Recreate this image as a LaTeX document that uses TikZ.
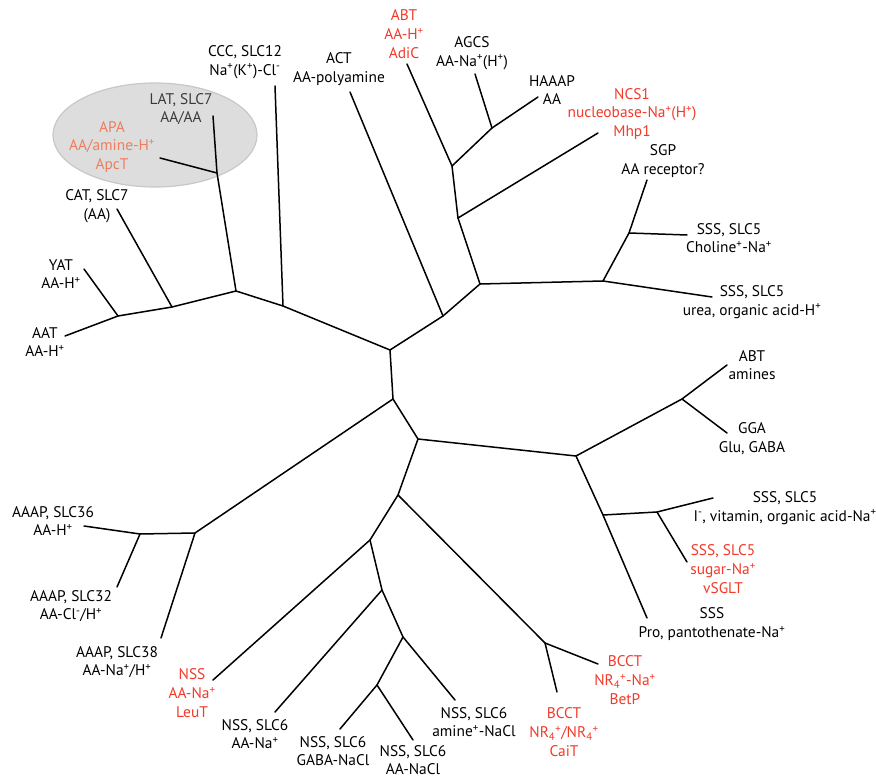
\documentclass[tikz,border=0pt]{standalone}
\usepackage{fontspec}
\setmainfont{PT Sans}
\definecolor{tred}{HTML}{F23A2A}
\definecolor{tsalmon}{HTML}{EE7E5E}
\definecolor{tgrey}{HTML}{DDDDDD}
\definecolor{tgreyline}{HTML}{C8C8C8}
\definecolor{tdark}{HTML}{3A3A3A}
\newcommand{\up}[1]{\textsuperscript{#1}}
\newcommand{\dn}[1]{\textsubscript{#1}}
\tikzset{
  lbl/.style={align=center, inner sep=0pt, font=\fontsize{15.4}{18.7}\selectfont, text=black},
  redlbl/.style={lbl, text=tred},
  br/.style={line width=1.5pt, black, line cap=round, line join=round},
}
\begin{document}
\begin{tikzpicture}[x=1pt,y=-1pt]
\useasboundingbox (0,0) rectangle (876,778);
\fill[white] (0,0) rectangle (876,778);
% grey ellipse
\draw[fill=tgrey, draw=tgreyline, line width=1.2pt] (155,135) ellipse [x radius=102, y radius=52];

% internal coordinates
\coordinate (C0) at (390,350);
\coordinate (C1) at (393,399);
\coordinate (A1) at (283,306);
\coordinate (A2) at (236,291);
\coordinate (A3) at (217,173);
\coordinate (A4) at (172,307);
\coordinate (A5) at (118,316);
\coordinate (B1) at (443,316);
\coordinate (B2) at (480,284);
\coordinate (B3) at (458,218);
\coordinate (B4) at (603,281);
\coordinate (B5) at (452,166);
\coordinate (B6) at (492,128);
\coordinate (B7) at (629,233);
\coordinate (D1) at (195,533);
\coordinate (D2) at (140,534);
\coordinate (E1) at (418,439);
\coordinate (E2) at (576,456);
\coordinate (E3) at (682,399);
\coordinate (E4) at (603,515);
\coordinate (E5) at (657,512);
\coordinate (E6) at (398,495);
\coordinate (E7) at (545,643);
\coordinate (E8) at (370,540);
\coordinate (E9) at (382,590);
\coordinate (E10) at (403,637);
\coordinate (E11) at (377,685);

% leaf ends
\coordinate (tCCC) at (275,86);
\coordinate (tLAT) at (213,116);
\coordinate (tAPA) at (160,158);
\coordinate (tCAT) at (117,209);
\coordinate (tYAT) at (84,269);
\coordinate (tAAT) at (65,336);
\coordinate (tACT) at (350,92);
\coordinate (tABT) at (407,64);
\coordinate (tAGCS) at (475,74);
\coordinate (tHAAAP) at (538,97);
\coordinate (tNCS) at (598,133);
\coordinate (tSGP) at (647,180);
\coordinate (tCho) at (687,235);
\coordinate (tUrea) at (712,297);
\coordinate (tAmines) at (727,365);
\coordinate (tGGA) at (727,433);
\coordinate (tIvit) at (713,498);
\coordinate (tSugar) at (687,562);
\coordinate (tPro) at (647,618);
\coordinate (tBetP) at (598,664);
\coordinate (tCaiT) at (557,692);
\coordinate (tAmine) at (455,700);
\coordinate (tAANaCl) at (413,740);
\coordinate (tGABA) at (340,729);
\coordinate (tAANa) at (275,712);
\coordinate (tLeuT) at (213,680);
\coordinate (tS38) at (161,638);
\coordinate (tS32) at (117,587);
\coordinate (tS36) at (84,526);

% branches
\draw[br] (C0) -- (C1);
\draw[br] (C0) -- (A1) -- (A2) -- (A4) -- (A5) -- (tAAT);
\draw[br] (A1) -- (tCCC);
\draw[br] (A2) -- (A3) -- (tLAT);
\draw[br] (A3) -- (tAPA);
\draw[br] (A4) -- (tCAT);
\draw[br] (A5) -- (tYAT);
\draw[br] (C0) -- (B1) -- (B2) -- (B4) -- (tUrea);
\draw[br] (B1) -- (tACT);
\draw[br] (B2) -- (B3) -- (B5) -- (tABT);
\draw[br] (B3) -- (tNCS);
\draw[br] (B5) -- (B6) -- (tAGCS);
\draw[br] (B6) -- (tHAAAP);
\draw[br] (B4) -- (B7) -- (tSGP);
\draw[br] (B7) -- (tCho);
\draw[br] (C1) -- (D1) -- (D2) -- (tS36);
\draw[br] (D2) -- (tS32);
\draw[br] (D1) -- (tS38);
\draw[br] (C1) -- (E1) -- (E2) -- (E3) -- (tAmines);
\draw[br] (E3) -- (tGGA);
\draw[br] (E2) -- (E4) -- (tPro);
\draw[br] (E4) -- (E5) -- (tIvit);
\draw[br] (E5) -- (tSugar);
\draw[br] (E1) -- (E6) -- (E7) -- (tBetP);
\draw[br] (E7) -- (tCaiT);
\draw[br] (E6) -- (E8) -- (tLeuT);
\draw[br] (E8) -- (E9) -- (tAANa);
\draw[br] (E9) -- (E10) -- (tAmine);
\draw[br] (E10) -- (E11) -- (tGABA);
\draw[br] (E11) -- (tAANaCl);

% labels
\node[lbl] (lCCC) at (245,62) {CCC, SLC12\\Na\up{+}(K\up{+})-Cl\up{-}};
\node[lbl, text=tdark] (lLAT) at (181,109) {LAT, SLC7\\AA/AA};
\node[lbl, text=tsalmon] (lAPA) at (112,147) {APA\\AA/amine-H\up{+}\\ApcT};
\node[lbl] (lCAT) at (97,206) {CAT, SLC7\\(AA)};
\node[lbl] (lYAT) at (61,274) {YAT\\AA-H\up{+}};
\node[lbl] (lAAT) at (45,342) {AAT\\AA-H\up{+}};
\node[lbl] (lACT) at (339,69) {ACT\\AA-polyamine};
\node[redlbl] (lABT) at (404,34) {ABT\\AA-H\up{+}\\AdiC};
\node[lbl] (lAGCS) at (472,53) {AGCS\\AA-Na\up{+}(H\up{+})};
\node[lbl] (lHAAAP) at (552,90) {HAAAP\\AA};
\node[redlbl] (lNCS) at (632,114) {NCS1\\nucleobase-Na\up{+}(H\up{+})\\Mhp1};
\node[lbl] (lSGP) at (663,161) {SGP\\AA receptor?};
\node[lbl] (lCho) at (729,238) {SSS, SLC5\\Choline\up{+}-Na\up{+}};
\node[lbl] (lUrea) at (752,302) {SSS, SLC5\\urea, organic acid-H\up{+}};
\node[lbl] (lAmines) at (752,365) {ABT\\amines};
\node[lbl] (lGGA) at (752,439) {GGA\\Glu, GABA};
\node[lbl] (lIvit) at (785,508) {SSS, SLC5\\I\up{-}, vitamin, organic acid-Na\up{+}};
\node[redlbl] (lSugar) at (723,569) {SSS, SLC5\\sugar-Na\up{+}\\vSGLT};
\node[lbl] (lPro) at (712,624) {SSS\\Pro, pantothenate-Na\up{+}};
\node[redlbl] (lBetP) at (625,680) {BCCT\\NR\dn{4}\up{+}-Na\up{+}\\BetP};
\node[redlbl] (lCaiT) at (564,732) {BCCT\\NR\dn{4}\up{+}/NR\dn{4}\up{+}\\CaiT};
\node[lbl] (lAmine) at (474,722) {NSS, SLC6\\amine\up{+}-NaCl};
\node[lbl] (lAANaCl) at (413,760) {NSS, SLC6\\AA-NaCl};
\node[lbl] (lGABA) at (333,751) {NSS, SLC6\\GABA-NaCl};
\node[lbl] (lAANa) at (255,734) {NSS, SLC6\\AA-Na\up{+}};
\node[redlbl] (lLeuT) at (192,693) {NSS\\AA-Na\up{+}\\LeuT};
\node[lbl] (lS38) at (117,662) {AAAP, SLC38\\AA-Na\up{+}/H\up{+}};
\node[lbl] (lS32) at (71,606) {AAAP, SLC32\\AA-Cl\up{-}/H\up{+}};
\node[lbl] (lS36) at (53,521) {AAAP, SLC36\\AA-H\up{+}};
\end{tikzpicture}
\end{document}
